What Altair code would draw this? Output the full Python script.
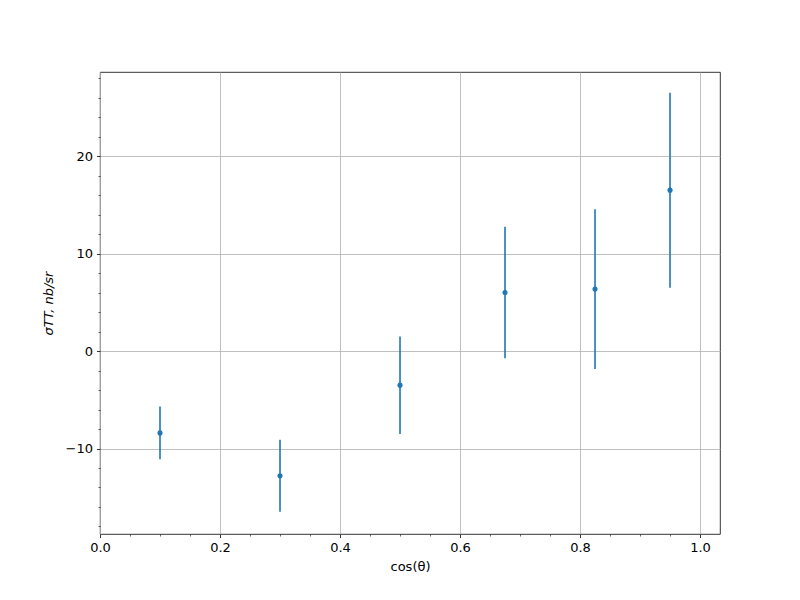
import altair as alt
import pandas as pd

# data
cos_theta = [0.1, 0.3, 0.5, 0.675, 0.825, 0.95]
sigma_tt = [-8.4, -12.8, -3.5, 6.0, 6.35, 16.5]
sigma_err = [2.7, 3.7, 5.0, 6.75, 8.2, 10.0]

x_major = [0.0, 0.2, 0.4, 0.6, 0.8, 1.0]
x_minor = [0.05, 0.1, 0.15, 0.25, 0.3, 0.35, 0.45, 0.5, 0.55, 0.65, 0.7, 0.75, 0.85, 0.9, 0.95]
y_major = [-10, 0, 10, 20]
y_minor = [-18, -16, -14, -12, -8, -6, -4, -2, 2, 4, 6, 8, 12, 14, 16, 18, 22, 24, 26, 28]

df = pd.DataFrame({
    "x": cos_theta,
    "y": sigma_tt,
    "ymin": [v - e for v, e in zip(sigma_tt, sigma_err)],
    "ymax": [v + e for v, e in zip(sigma_tt, sigma_err)],
})

blue = "#1f77b4"
font = "DejaVu Sans"
xscale = alt.Scale(domain=[0, 1.0333], nice=False, zero=False)
yscale = alt.Scale(domain=[-18.77, 28.62], nice=False, zero=False)

x_axis_major = alt.Axis(values=x_major, format=".1f", grid=True, gridColor="#b0b0b0",
                        gridWidth=0.8, tickSize=3.5, tickColor="black", tickWidth=0.8,
                        domain=False, labelFont=font, labelFontSize=13, labelColor="black",
                        labelPadding=4, title="cos(θ)", titleFont=font, titleFontSize=13,
                        titleFontWeight="normal", titleColor="black", titlePadding=6,
                        labelFlush=False, orient="bottom")
y_axis_major = alt.Axis(values=y_major, format="d", grid=True, gridColor="#b0b0b0",
                        gridWidth=0.8, tickSize=3.5, tickColor="black", tickWidth=0.8,
                        domain=False, labelFont=font, labelFontSize=13, labelColor="black",
                        labelPadding=4, title="σTT, nb/sr", titleFont=font, titleFontSize=13,
                        titleFontWeight="normal", titleFontStyle="italic", titleColor="black",
                        titlePadding=10, labelFlush=False, orient="left")
x_axis_minor = alt.Axis(values=x_minor, grid=False, labels=False, tickSize=2,
                        tickColor="black", tickWidth=0.6, domain=False, title=None,
                        orient="bottom")
y_axis_minor = alt.Axis(values=y_minor, grid=False, labels=False, tickSize=2,
                        tickColor="black", tickWidth=0.6, domain=False, title=None,
                        orient="left")

base = alt.Chart(df)

bars = base.mark_rule(color=blue, strokeWidth=1.6).encode(
    x=alt.X("x:Q", scale=xscale, axis=x_axis_major),
    y=alt.Y("ymin:Q", scale=yscale, axis=y_axis_major),
    y2="ymax:Q",
)

points = base.mark_circle(color=blue, size=26, opacity=1).encode(
    x=alt.X("x:Q", scale=xscale, axis=x_axis_minor),
    y=alt.Y("y:Q", scale=yscale, axis=y_axis_minor),
)

chart = (
    alt.layer(bars, points)
    .resolve_axis(x="independent", y="independent")
    .properties(
        width=620,
        height=462,
        autosize=alt.AutoSizeParams(type="none"),
        padding={"left": 92, "top": 64, "right": 72, "bottom": 58},
        background="white",
    )
    .configure_view(stroke="black", strokeWidth=0.8)
)

chart.save("out.html", embed_options={"renderer": "svg", "actions": False})
